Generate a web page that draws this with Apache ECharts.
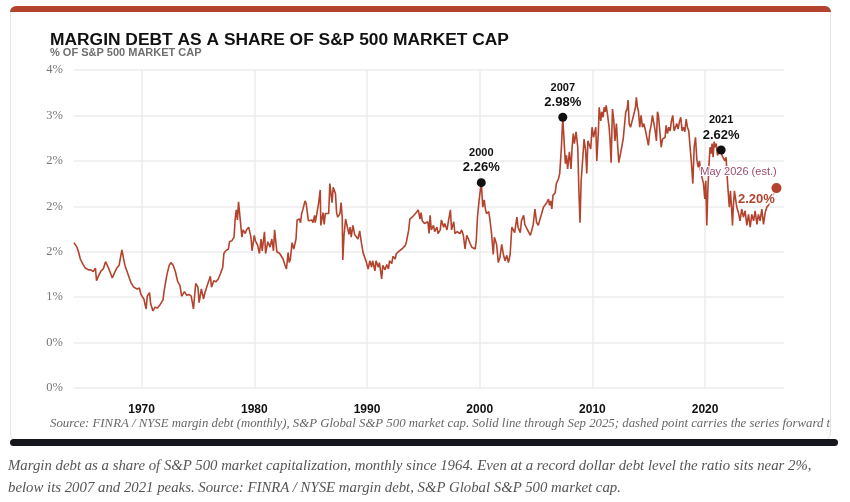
<!DOCTYPE html>
<html>
<head>
<meta charset="utf-8">
<script src="https://cdn.jsdelivr.net/npm/echarts@6/dist/echarts.min.js"></script>
<style>
  html, body { margin: 0; padding: 0; background: #fff; }
  .page { position: relative; width: 850px; height: 502px; overflow: hidden; }
  .card { position: absolute; left: 10px; top: 6px; width: 819px; height: 433px;
          border: 1px solid #e4e4e4; border-radius: 8px; background: #fff; }
  .redbar { position: absolute; left: 10px; top: 6px; width: 821px; height: 6px;
            background: #b3432d; border-radius: 7px 7px 0 0; }
  .darkbar { position: absolute; left: 10px; top: 439px; width: 828px; height: 7px;
             background: #15171c; border-radius: 4px; }
  .caption { position: absolute; left: 8px; top: 454px; width: 836px;
             font: italic 14.8px "Liberation Serif", serif; color: #555; line-height: 22px; }
  #chart { position: absolute; left: 0; top: 0; width: 850px; height: 502px;
           clip-path: inset(0px 20px 0px 0px); }
</style>
</head>
<body>
<div class="page">
  <div class="card"></div>
  <div class="redbar"></div>
  <div id="chart"></div>
  <div class="darkbar"></div>
  <div class="caption">Margin debt as a share of S&amp;P 500 market capitalization, monthly since 1964. Even at a record dollar debt level the ratio sits near 2%,<br>below its 2007 and 2021 peaks. Source: FINRA / NYSE margin debt, S&amp;P Global S&amp;P 500 market cap.</div>
</div>
<script>
// axis ticks
const xTickYears = [1970, 1980, 1990, 2000, 2010, 2020];
const yTickLabels = ['0%', '0%', '1%', '2%', '2%', '2%', '3%', '4%']; // one per 0.5 step

// margin debt / market cap, % — [year, value]
const history = [
  [1964.00,1.60],[1964.26,1.55],[1964.40,1.50],[1964.56,1.42],[1964.80,1.36],[1965.00,1.32],[1965.30,1.30],[1965.50,1.30],
  [1965.70,1.28],[1965.90,1.32],[1966.00,1.18],[1966.20,1.24],[1966.40,1.29],[1966.60,1.31],[1966.80,1.39],[1966.90,1.38],
  [1967.10,1.31],[1967.20,1.33],[1967.40,1.21],[1967.60,1.27],[1967.80,1.32],[1968.00,1.35],[1968.15,1.33],[1968.25,1.52],
  [1968.40,1.54],[1968.50,1.36],[1968.60,1.32],[1968.80,1.25],[1969.05,1.16],[1969.30,1.11],[1969.60,1.09],[1969.80,1.10],
  [1969.94,1.03],[1970.20,0.98],[1970.40,0.87],[1970.50,1.01],[1970.70,1.05],[1970.80,0.93],[1971.00,0.85],[1971.20,0.89],
  [1971.40,0.88],[1971.65,0.92],[1971.90,0.97],[1972.00,1.07],[1972.25,1.25],[1972.45,1.35],[1972.60,1.38],[1972.80,1.35],
  [1973.00,1.28],[1973.20,1.17],[1973.40,1.13],[1973.55,1.01],[1973.80,1.06],[1974.00,1.02],[1974.20,1.03],[1974.40,1.01],
  [1974.60,0.87],[1974.80,1.15],[1975.00,1.11],[1975.10,0.94],[1975.30,1.09],[1975.50,0.98],[1975.60,1.04],[1975.80,1.12],
  [1975.90,1.13],[1976.10,1.23],[1976.20,1.11],[1976.40,1.18],[1976.60,1.17],[1976.80,1.20],[1977.00,1.26],[1977.20,1.33],
  [1977.30,1.48],[1977.45,1.51],[1977.70,1.53],[1977.80,1.61],[1978.00,1.62],[1978.20,1.66],[1978.30,1.86],[1978.40,1.96],
  [1978.50,1.85],[1978.60,2.05],[1978.75,1.85],[1978.90,1.66],[1979.00,1.74],[1979.20,1.70],[1979.30,1.74],[1979.50,1.77],
  [1979.70,1.66],[1979.80,1.51],[1980.00,1.68],[1980.10,1.62],[1980.30,1.57],[1980.45,1.48],[1980.60,1.64],[1980.70,1.51],
  [1980.90,1.72],[1981.00,1.48],[1981.20,1.61],[1981.40,1.55],[1981.55,1.64],[1981.70,1.51],[1981.80,1.74],[1982.00,1.50],
  [1982.10,1.51],[1982.25,1.48],[1982.40,1.48],[1982.55,1.42],[1982.70,1.36],[1982.85,1.31],[1983.00,1.49],[1983.10,1.38],
  [1983.20,1.42],[1983.35,1.60],[1983.50,1.53],[1983.70,1.64],[1983.80,1.85],[1984.00,1.86],[1984.10,1.82],[1984.20,1.92],
  [1984.30,1.96],[1984.50,2.06],[1984.60,2.03],[1984.80,1.84],[1984.90,1.82],[1985.10,1.85],[1985.20,1.82],[1985.35,1.90],
  [1985.40,1.82],[1985.55,1.92],[1985.70,2.03],[1985.85,2.18],[1985.90,1.79],[1986.10,1.93],[1986.20,1.80],[1986.30,1.92],
  [1986.45,1.93],[1986.60,1.92],[1986.70,2.25],[1986.80,2.25],[1986.90,2.04],[1987.00,2.21],[1987.20,2.14],[1987.30,1.93],
  [1987.40,1.88],[1987.60,1.92],[1987.70,2.04],[1987.80,1.88],[1987.85,1.41],[1987.96,1.68],[1988.10,1.86],[1988.25,1.84],
  [1988.40,1.69],[1988.50,1.77],[1988.60,1.66],[1988.75,1.79],[1988.90,1.69],[1989.05,1.71],[1989.20,1.64],[1989.35,1.73],
  [1989.50,1.60],[1989.65,1.49],[1989.80,1.47],[1989.95,1.38],[1990.10,1.31],[1990.25,1.40],[1990.40,1.33],[1990.50,1.40],
  [1990.70,1.29],[1990.80,1.40],[1991.00,1.33],[1991.10,1.38],[1991.30,1.20],[1991.40,1.35],[1991.60,1.30],[1991.75,1.36],
  [1991.90,1.31],[1992.00,1.40],[1992.20,1.37],[1992.30,1.45],[1992.50,1.42],[1992.60,1.48],[1992.80,1.50],[1992.90,1.51],
  [1993.10,1.53],[1993.20,1.55],[1993.40,1.57],[1993.50,1.61],[1993.70,1.74],[1993.80,1.86],[1994.00,1.88],[1994.10,1.89],
  [1994.30,1.92],[1994.40,1.90],[1994.55,1.96],[1994.70,1.86],[1994.80,1.93],[1994.90,1.84],[1995.10,1.81],[1995.20,1.79],
  [1995.40,1.83],[1995.50,1.70],[1995.60,1.90],[1995.70,1.74],[1995.90,1.79],[1996.00,1.72],[1996.20,1.77],[1996.30,1.70],
  [1996.50,1.74],[1996.60,1.85],[1996.80,1.77],[1996.90,1.81],[1997.10,1.74],[1997.20,1.82],[1997.40,1.96],[1997.50,1.74],
  [1997.70,1.83],[1997.80,1.70],[1998.00,1.72],[1998.10,1.74],[1998.25,1.70],[1998.40,1.74],[1998.55,1.68],[1998.70,1.53],
  [1998.85,1.68],[1999.00,1.64],[1999.15,1.59],[1999.30,1.55],[1999.45,1.57],[1999.60,1.53],[1999.70,1.63],[1999.80,1.88],
  [1999.95,2.07],[2000.14,2.26],[2000.20,2.14],[2000.27,1.99],[2000.40,2.07],[2000.50,1.97],[2000.60,1.92],[2000.80,1.94],
  [2000.90,1.86],[2001.05,1.70],[2001.20,1.47],[2001.30,1.66],[2001.50,1.58],[2001.65,1.38],[2001.80,1.44],[2001.95,1.58],
  [2002.10,1.47],[2002.25,1.40],[2002.40,1.46],[2002.55,1.38],[2002.70,1.47],[2002.85,1.77],[2003.00,1.75],[2003.10,1.71],
  [2003.30,1.88],[2003.40,1.77],[2003.60,1.71],[2003.70,1.84],[2003.90,1.90],[2004.00,1.80],[2004.20,1.75],[2004.30,1.77],
  [2004.50,1.68],[2004.60,1.66],[2004.75,1.80],[2004.90,1.97],[2005.05,1.82],[2005.20,1.79],[2005.35,1.86],[2005.50,1.92],
  [2005.65,1.99],[2005.80,1.97],[2005.95,2.04],[2006.10,2.08],[2006.20,2.01],[2006.30,2.06],[2006.40,1.97],[2006.50,2.12],
  [2006.70,2.15],[2006.80,2.25],[2006.98,2.30],[2007.10,2.36],[2007.25,2.65],[2007.37,2.98],[2007.50,2.69],[2007.60,2.47],
  [2007.70,2.56],[2007.80,2.41],[2007.96,2.60],[2008.10,2.41],[2008.20,2.65],[2008.30,2.80],[2008.40,2.69],[2008.55,2.82],
  [2008.70,2.65],[2008.80,2.17],[2008.90,1.82],[2009.00,2.28],[2009.15,2.54],[2009.26,2.74],[2009.40,2.61],[2009.50,2.36],
  [2009.60,2.72],[2009.70,2.74],[2009.85,2.63],[2009.97,2.87],[2010.10,2.76],[2010.20,2.74],[2010.30,2.87],[2010.39,2.50],
  [2010.54,2.85],[2010.60,3.09],[2010.74,2.94],[2010.83,3.04],[2010.95,2.98],[2011.04,3.09],[2011.13,3.04],[2011.22,3.11],
  [2011.33,3.02],[2011.48,2.87],[2011.57,2.72],[2011.66,2.48],[2011.78,3.07],[2011.90,2.94],[2012.00,2.72],[2012.13,2.91],
  [2012.25,2.65],[2012.34,2.48],[2012.46,2.56],[2012.60,2.65],[2012.73,2.74],[2012.84,2.72],[2012.96,3.04],[2013.08,3.07],
  [2013.17,3.17],[2013.26,2.91],[2013.38,2.87],[2013.50,2.87],[2013.61,2.98],[2013.73,3.04],[2013.82,3.09],[2013.90,3.20],
  [2014.00,3.09],[2014.09,3.04],[2014.20,2.87],[2014.32,3.00],[2014.44,2.87],[2014.56,2.91],[2014.68,2.85],[2014.83,2.83],
  [2014.97,2.67],[2015.09,2.82],[2015.21,2.89],[2015.33,3.00],[2015.45,2.98],[2015.57,2.83],[2015.68,2.72],[2015.77,3.04],
  [2015.86,3.00],[2015.98,2.83],[2016.10,2.65],[2016.22,2.74],[2016.33,2.72],[2016.45,2.76],[2016.54,2.89],[2016.66,2.80],
  [2016.78,2.87],[2016.90,2.83],[2017.00,2.93],[2017.13,3.00],[2017.25,2.83],[2017.37,2.87],[2017.49,2.91],[2017.60,2.85],
  [2017.72,2.93],[2017.84,2.98],[2017.96,2.83],[2018.08,2.87],[2018.20,2.82],[2018.32,2.96],[2018.43,2.87],[2018.55,2.83],
  [2018.67,2.82],[2018.79,2.47],[2018.91,2.25],[2019.03,2.65],[2019.15,2.76],[2019.26,2.52],[2019.38,2.43],[2019.50,2.50],
  [2019.62,2.37],[2019.74,2.37],[2019.86,2.25],[2019.97,2.08],[2020.06,2.28],[2020.15,1.79],[2020.24,2.17],[2020.33,2.43],
  [2020.44,2.65],[2020.53,2.58],[2020.62,2.69],[2020.71,2.54],[2020.80,2.71],[2020.90,2.65],[2020.98,2.69],[2021.10,2.56],
  [2021.20,2.60],[2021.33,2.61],[2021.42,2.62],[2021.50,2.56],[2021.63,2.58],[2021.75,2.50],[2021.86,2.54],[2021.98,2.28],
  [2022.07,2.12],[2022.15,1.99],[2022.25,2.17],[2022.34,2.00],[2022.43,1.79],[2022.50,1.99],[2022.60,2.17],[2022.81,1.99],
  [2022.96,1.93],[2023.10,1.84],[2023.25,1.97],[2023.40,1.88],[2023.55,1.95],[2023.70,1.79],[2023.85,1.91],[2024.00,1.77],
  [2024.14,1.91],[2024.30,1.84],[2024.44,1.95],[2024.60,1.80],[2024.73,1.91],[2024.88,1.84],[2025.03,1.97],[2025.18,1.80],
  [2025.33,1.93],[2025.47,1.99],[2025.62,2.00],[2025.67,2.02]
];

// labelled peaks
const peakYears = [2000.14, 2007.37, 2021.42];
const peakValues = [2.26, 2.98, 2.62];
const peakLabels = ['2000', '2007', '2021'];

// last actual month (Sep 2025) and the carried-forward estimate (May 2026)
const lastActual = [2025.67, 2.02];
const estimate = [2026.33, 2.20];
const estimateLabel = 'May 2026 (est.)';

const brick = '#b3432d';
const chart = echarts.init(document.getElementById('chart'), null, { renderer: 'canvas' });

chart.setOption({
  animation: false,
  textStyle: { fontFamily: 'Liberation Sans, Arial, sans-serif' },
  grid: { left: 74, right: 66, top: 70, bottom: 114 },
  graphic: [
    { type: 'text', left: 50, top: 32, silent: true,
      style: { text: 'MARGIN DEBT AS A SHARE OF S&P 500 MARKET CAP', fill: '#111',
               font: 'bold 17.4px "Liberation Sans", Arial, sans-serif' } },
    { type: 'text', left: 50, top: 47, silent: true,
      style: { text: '% OF S&P 500 MARKET CAP', fill: '#6f6f6f',
               font: 'bold 11px "Liberation Sans", Arial, sans-serif' } },
    { type: 'text', left: 50, top: 417, silent: true,
      style: { text: 'Source: FINRA / NYSE margin debt (monthly), S&P Global S&P 500 market cap. Solid line through Sep 2025; dashed point carries the series forward to May 2026.',
               fill: '#666', font: 'italic 12.8px "Liberation Serif", serif' } }
  ],
  xAxis: {
    type: 'value', min: 1964, max: 2027,
    axisLine: { show: false },
    axisTick: { show: false, customValues: xTickYears },
    axisLabel: { customValues: xTickYears, formatter: v => String(v), margin: 16,
                 color: '#111', fontWeight: 'bold', fontSize: 12 },
    splitLine: { show: true, lineStyle: { color: '#ececec', width: 1.5 } }
  },
  yAxis: {
    type: 'value', min: 0, max: 3.5, interval: 0.5,
    axisLine: { show: false }, axisTick: { show: false },
    axisLabel: { formatter: v => yTickLabels[Math.round(v / 0.5)], margin: 11,
                 color: '#777', fontSize: 12.5, fontFamily: 'Liberation Serif, serif' },
    splitLine: { lineStyle: { color: '#ececec', width: 1.5 } }
  },
  series: [
    { name: 'share', type: 'line', data: history, showSymbol: false, silent: true,
      lineStyle: { color: brick, width: 1.6 }, z: 2 },
    { name: 'forward', type: 'line', data: [lastActual, estimate], showSymbol: false, silent: true,
      lineStyle: { color: brick, width: 1.2, type: 'dashed' }, z: 2 },
    { name: 'peaks', type: 'scatter', silent: true, z: 4,
      data: peakYears.map((y, i) => [y, peakValues[i]]),
      symbolSize: 9, itemStyle: { color: '#111', opacity: 1 },
      label: {
        show: true, position: 'top', distance: 3,
        formatter: p => '{yr|' + peakLabels[p.dataIndex] + '}\n{val|' + peakValues[p.dataIndex].toFixed(2) + '%}',
        textBorderColor: '#fff', textBorderWidth: 3,
        rich: {
          yr: { fontSize: 11, fontWeight: 'bold', color: '#111', lineHeight: 14, align: 'center' },
          val: { fontSize: 13, fontWeight: 'bold', color: '#111', lineHeight: 15, align: 'center' }
        }
      } },
    { name: 'estimate', type: 'scatter', silent: true, z: 4,
      data: [estimate], symbolSize: 10, itemStyle: { color: brick, opacity: 1 },
      label: { show: true, formatter: estimateLabel, position: [-33, -11], align: 'center',
               verticalAlign: 'middle', fontSize: 11, color: '#9c4a6e',
               textBorderColor: '#fff', textBorderWidth: 2 } },
    { name: 'estimateValue', type: 'scatter', silent: true, z: 5,
      data: [estimate], symbolSize: 10, itemStyle: { color: 'transparent', opacity: 1 },
      label: { show: true, formatter: estimate[1].toFixed(2) + '%', position: [-15, 16], align: 'center',
               verticalAlign: 'middle', fontSize: 13, fontWeight: 'bold', color: brick,
               textBorderColor: '#fff', textBorderWidth: 3 } }
  ]
});
</script>
</body>
</html>
